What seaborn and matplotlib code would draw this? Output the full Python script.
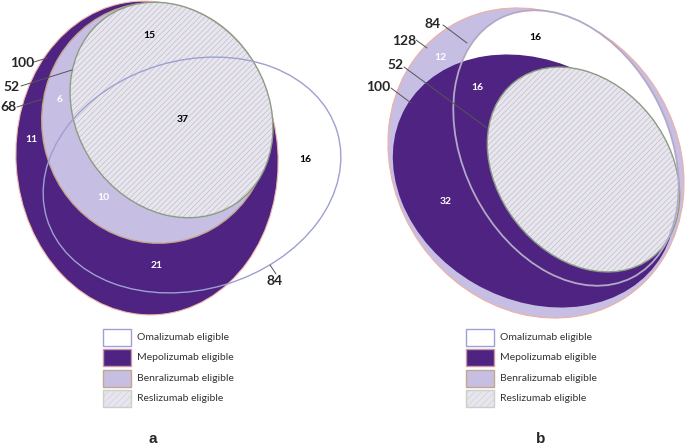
import matplotlib
matplotlib.use("Agg")
import matplotlib.pyplot as plt
from matplotlib.patches import Ellipse, Rectangle
import seaborn as sns

# data
drugs = ["Omalizumab", "Mepolizumab", "Benralizumab", "Reslizumab"]
legend_labels = [d + " eligible" for d in drugs]

# panel a: set totals and region counts
a_totals = {"Mepolizumab": 100, "Reslizumab": 52, "Benralizumab": 68, "Omalizumab": 84}
a_regions = [15, 37, 16, 6, 11, 10, 21]
# panel b
b_totals = {"Omalizumab": 84, "Benralizumab": 128, "Reslizumab": 52, "Mepolizumab": 100}
b_regions = [16, 12, 16, 32]

# style
sns.set_theme(style="white")
plt.rcParams["font.family"] = ["Lato", "DejaVu Sans"]
plt.rcParams["hatch.linewidth"] = 0.4

dark = "#4e2382"
lav = "#c7bee4"
resl_fill = "#e8e5f0"
hatch_col = "#b4b9b4"
oma_edge = "#9da0d0"

fig = plt.figure(figsize=(6.85, 4.46), dpi=100)
ax = fig.add_axes([0, 0, 1, 1])
ax.set_xlim(0, 685)
ax.set_ylim(446, 0)
ax.axis("off")


def ell(xy, w, h, ang, fc="none", ec="none", lw=0.0, hatch=None, z=1):
    ax.add_patch(Ellipse(xy, w, h, angle=ang, facecolor=fc, edgecolor=ec,
                         linewidth=lw, hatch=hatch, zorder=z))


def hatched(xy, w, h, ang, edge, z):
    ell(xy, w, h, ang, fc=resl_fill, z=z)
    ell(xy, w, h, ang, ec=hatch_col, hatch="//////", z=z)
    ell(xy, w, h, ang, ec=edge, lw=1.0, z=z)


# ---- panel a ----
ell((147, 158), 262, 314, -4, fc=dark, ec="#f2b9aa", lw=0.8, z=1)
ell((156, 123), 228, 241, -12, fc=lav, ec="#c2a78d", lw=1.0, z=2)
hatched((171.5, 110), 227, 190, 55, "#8c9c84", 3)
ell((192, 175), 303, 229, -16.5, ec=oma_edge, lw=1.0, z=4)

a_pos = [(149, 36), (183, 120), (305, 159), (60, 100), (31, 139), (103, 197), (157, 265)]
a_col = ["black", "black", "black", "white", "white", "white", "white"]
for v, (x, y), c in zip(a_regions, a_pos, a_col):
    ax.text(x, y, str(v), ha="center", va="center", fontsize=7.5, fontweight="bold", color=c, zorder=6)

a_call = {"Mepolizumab": ((22, 63), (34, 62), (47, 58)),
          "Reslizumab": ((12, 87), (21, 86), (72, 70)),
          "Benralizumab": ((8, 107), (17, 107), (43, 99)),
          "Omalizumab": ((275, 281), (276, 274), (270, 265))}
for k, (txt, p0, p1) in a_call.items():
    ax.text(*txt, str(a_totals[k]), ha="center", va="center", fontsize=10, fontweight="bold", zorder=6)
    ax.plot([p0[0], p1[0]], [p0[1], p1[1]], color="#555555", lw=0.7, zorder=5)

# ---- panel b ----
ell((536, 163), 323, 282, 55, fc=lav, ec="#efb0a0", lw=0.8, z=1)
ell((566, 148), 291, 205, 63, fc="white", z=2)
ell((534, 181), 296, 237, 30, fc=dark, z=3)
hatched((583.5, 169.5), 223, 171, 52, "#8c9c84", 4)
ell((566, 148), 291, 205, 63, ec="#b3a9c6", lw=1.3, z=5)

b_pos = [(535, 37), (440, 57), (477, 88), (446, 202)]
b_col = ["black", "white", "white", "white"]
for v, (x, y), c in zip(b_regions, b_pos, b_col):
    ax.text(x, y, str(v), ha="center", va="center", fontsize=7.5, fontweight="bold", color=c, zorder=6)

b_call = {"Omalizumab": ((433, 24), (443, 25), (467, 43)),
          "Benralizumab": ((404, 41), (416, 40), (427, 48)),
          "Reslizumab": ((396, 65), (404, 67), (487, 128)),
          "Mepolizumab": ((378, 87), (391, 88), (411, 103))}
for k, (txt, p0, p1) in b_call.items():
    ax.text(*txt, str(b_totals[k]), ha="center", va="center", fontsize=10, fontweight="bold", zorder=7)
    ax.plot([p0[0], p1[0]], [p0[1], p1[1]], color="#555555", lw=0.7, zorder=6)

# ---- legends ----
legend_styles = [
    dict(fc="white", ec=oma_edge, hatch=None),
    dict(fc=dark, ec="#c89aa8", hatch=None),
    dict(fc=lav, ec="#c2a78d", hatch=None),
    dict(fc=resl_fill, ec="#c8d0c8", hatch="/////"),
]
for x0, tag, tx in [(103, "a", 153), (466, "b", 541)]:
    for i, (lab, st) in enumerate(zip(legend_labels, legend_styles)):
        y0 = 329 + i * 20.3
        ax.add_patch(Rectangle((x0, y0), 28, 17, facecolor=st["fc"], edgecolor=st["ec"],
                               linewidth=1.0, hatch=st["hatch"]))
        ax.text(x0 + 34, y0 + 8.5, lab, ha="left", va="center", fontsize=7.5, color="#333333")
    ax.text(tx, 439, tag, ha="center", va="center", fontsize=11, fontweight="bold",
            family=["Liberation Sans", "DejaVu Sans"])

fig.savefig("out.png", dpi=100, facecolor="white")
